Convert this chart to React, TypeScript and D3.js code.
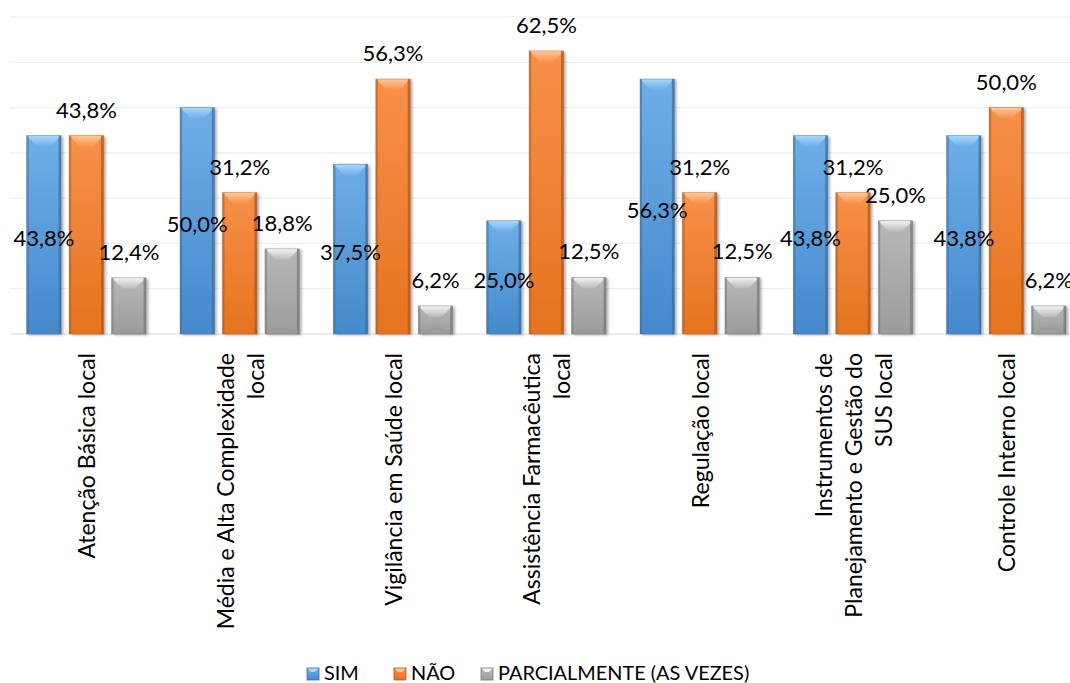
import React from "react";
import * as d3 from "d3";

const categories: string[][] = [
  ["Atenção Básica local"],
  ["Média e Alta Complexidade", "local"],
  ["Vigilância em Saúde local"],
  ["Assistência Farmacêutica", "local"],
  ["Regulação local"],
  ["Instrumentos de", "Planejamento e Gestão do", "SUS local"],
  ["Controle Interno local"],
];
const seriesNames = ["SIM", "NÃO", "PARCIALMENTE (AS VEZES)"];
const simValues = [43.8, 50.0, 37.5, 25.0, 56.3, 43.8, 43.8];
const naoValues = [43.8, 31.2, 56.3, 62.5, 31.2, 31.2, 50.0];
const parcialValues = [12.4, 18.8, 6.2, 12.5, 12.5, 25.0, 6.2];
const yTicks = [0, 10, 20, 30, 40, 50, 60, 70];

const palettes = [
  { base: "#5B9BD5", top: "#6FAEE8", bottom: "#4589CC", light: "#A6D8FB", dark: "#3E6F9E", edge: "#41719C" },
  { base: "#ED7D31", top: "#F8904A", bottom: "#E5731F", light: "#FFC993", dark: "#B0581C", edge: "#AE5A21" },
  { base: "#A5A5A5", top: "#B8B8B8", bottom: "#9C9C9C", light: "#F4F4F4", dark: "#7A7A7A", edge: "#787878" },
];

const W = 1070;
const H = 683;
const FONT = "Lato, 'Open Sans', sans-serif";

export default function App() {
  const values = [simValues, naoValues, parcialValues];
  const keys = categories.map((c) => c.join(" "));
  const x0 = d3.scaleBand<string>().domain(keys).range([9.7, 1083]).padding(0);
  const x1 = d3
    .scaleBand<number>()
    .domain([0, 1, 2])
    .range([0, x0.bandwidth()])
    .paddingInner(0.19)
    .paddingOuter(0.4);
  const y = d3.scaleLinear().domain([0, 70]).range([334, 17]);
  const fmt = (v: number) => v.toFixed(1).replace(".", ",") + "%";
  const bw = x1.bandwidth();
  const b = 11;

  const legendX = [307, 394, 481];

  return (
    <svg
      width={W}
      height={H}
      style={{ position: "absolute", left: 0, top: 0, background: "#fff" }}
      fontFamily={FONT}
    >
      <defs>
        <filter id="shadow" x="-20%" y="-10%" width="150%" height="130%">
          <feDropShadow dx="2" dy="1" stdDeviation="1.6" floodColor="#000" floodOpacity="0.35" />
        </filter>
        {palettes.map((p, i) => (
          <React.Fragment key={i}>
            <linearGradient id={`body${i}`} x1="0" y1="0" x2="0" y2="1">
              <stop offset="0" stopColor={p.top} />
              <stop offset="1" stopColor={p.bottom} />
            </linearGradient>
            <linearGradient id={`bev${i}`} x1="0" y1="0" x2="0" y2="1">
              <stop offset="0" stopColor={p.light} />
              <stop offset="1" stopColor={p.top} />
            </linearGradient>
          </React.Fragment>
        ))}
      </defs>

      {/* gridlines */}
      {yTicks.map((t) => (
        <line
          key={t}
          x1={9.7}
          x2={W}
          y1={y(t)}
          y2={y(t)}
          stroke={t === 0 ? "#d9d9d9" : "#eeeeee"}
          strokeWidth={1.2}
        />
      ))}

      {/* bars */}
      {keys.map((k, ci) => (
        <g key={k} transform={`translate(${x0(k)},0)`}>
          {values.map((vals, si) => {
            const p = palettes[si];
            const bx = x1(si)!;
            const by = y(vals[ci]);
            const bh = y(0) - by;
            const bb = Math.min(b, bh / 2);
            return (
              <g key={si}>
                <rect x={bx} y={by} width={bw} height={bh} fill={`url(#body${si})`} filter="url(#shadow)" />
                <polygon
                  points={`${bx},${by} ${bx + bw},${by} ${bx + bw - bb},${by + bb} ${bx + bb},${by + bb}`}
                  fill={`url(#bev${si})`}
                />
                <polygon
                  points={`${bx},${by + bh} ${bx + bw},${by + bh} ${bx + bw - bb},${by + bh - bb * 0.6} ${bx + bb},${by + bh - bb * 0.6}`}
                  fill={p.bottom}
                  opacity={0.9}
                />
                <rect x={bx} y={by} width={2} height={bh} fill={p.dark} opacity={0.55} />
                <rect x={bx + bw - 2.5} y={by} width={2.5} height={bh} fill={p.dark} opacity={0.75} />
                <rect x={bx} y={by} width={bw} height={bh} fill="none" stroke={p.edge} strokeWidth={0.6} opacity={0.6} />
              </g>
            );
          })}
        </g>
      ))}

      {/* data labels */}
      {keys.map((k, ci) =>
        values.map((vals, si) => {
          const cx = x0(k)! + x1(si)! + bw / 2;
          const v = vals[ci];
          const cy = si === 0 ? (y(v) + y(0)) / 2 + 2.5 : y(v) - 26.5;
          return (
            <text
              key={`${k}-${si}`}
              x={cx}
              y={cy}
              textAnchor="middle"
              dominantBaseline="central"
              fontSize={22}
              fill="#000"
            >
              {fmt(v)}
            </text>
          );
        })
      )}

      {/* x axis labels */}
      {categories.map((lines, ci) => {
        const cx = x0(keys[ci])! + x0.bandwidth() / 2;
        return lines.map((ln, li) => {
          const lx = cx + (li - (lines.length - 1) / 2) * 30;
          return (
            <text
              key={`${ci}-${li}`}
              transform={`translate(${lx},353) rotate(-90)`}
              textAnchor="end"
              dominantBaseline="central"
              fontSize={23}
              fill="#000"
            >
              {ln}
            </text>
          );
        });
      })}

      {/* legend */}
      {seriesNames.map((name, si) => {
        const p = palettes[si];
        const lx = legendX[si];
        const ly = 668;
        const s = 12;
        return (
          <g key={name}>
            <rect x={lx} y={ly} width={s} height={s} fill={`url(#body${si})`} />
            <polygon
              points={`${lx},${ly} ${lx + s},${ly} ${lx + s - 4},${ly + 4} ${lx + 4},${ly + 4}`}
              fill={p.light}
            />
            <rect x={lx} y={ly} width={s} height={s} fill="none" stroke={p.dark} strokeWidth={0.8} />
            <text x={lx + 17} y={679.5} fontSize={19.9} fill="#000">
              {name}
            </text>
          </g>
        );
      })}
    </svg>
  );
}
